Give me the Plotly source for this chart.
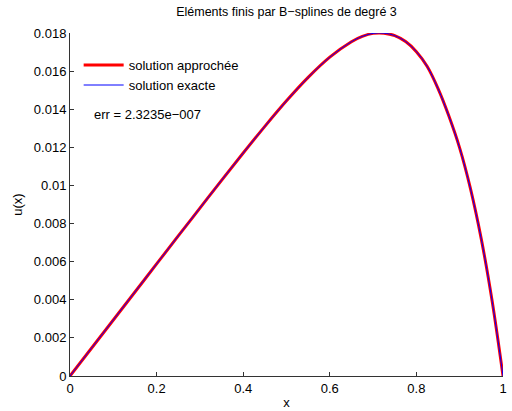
import plotly.graph_objects as go

x_vals = [0.0, 0.05, 0.1, 0.15, 0.2, 0.25, 0.3, 0.35, 0.4, 0.45, 0.5, 0.55, 0.6, 0.65,
          0.675, 0.7, 0.725, 0.75, 0.775, 0.8, 0.825, 0.85, 0.875, 0.9, 0.925, 0.95, 0.975, 1.0]
u_approx = [0.0, 0.00147, 0.00294, 0.00441, 0.00588, 0.00735, 0.00881, 0.01027, 0.01170,
            0.01310, 0.01444, 0.01567, 0.01673, 0.01754, 0.01782, 0.01798, 0.01799, 0.01786,
            0.01755, 0.01702, 0.01624, 0.01508, 0.01364, 0.01196, 0.00982, 0.00717, 0.00392, 0.0]
u_exact = list(u_approx)

x_ticks = [0, 0.2, 0.4, 0.6, 0.8, 1]
x_tick_text = ["0", "0.2", "0.4", "0.6", "0.8", "1"]
y_ticks = [0, 0.002, 0.004, 0.006, 0.008, 0.01, 0.012, 0.014, 0.016, 0.018]
y_tick_text = ["0", "0.002", "0.004", "0.006", "0.008", "0.01", "0.012", "0.014", "0.016", "0.018"]

title_text = "Eléments finis par B−splines de degré 3"
err_text = "err = 2.3235e−007"

font = "Liberation Sans, Arial, sans-serif"

fig = go.Figure()
fig.add_trace(go.Scatter(x=x_vals, y=u_approx, mode="lines", name="solution approchée",
                         line=dict(color="#ff0000", width=3, shape="spline")))
fig.add_trace(go.Scatter(x=x_vals, y=u_exact, mode="lines", name="solution exacte",
                         line=dict(color="#0000ff", width=1, shape="spline")))

fig.update_layout(
    width=512, height=411,
    margin=dict(l=70, r=9, t=33, b=35),
    paper_bgcolor="white", plot_bgcolor="white",
    font=dict(family=font, size=13, color="#000000"),
    title=dict(text=title_text, x=0.5, xanchor="center", xref="paper",
               y=1, yref="container", yanchor="top", pad=dict(t=7),
               font=dict(size=12.5, family=font, color="#000000")),
    showlegend=True,
    legend=dict(x=0.02, y=0.95, xanchor="left", yanchor="top",
                bgcolor="rgba(0,0,0,0)", borderwidth=0,
                font=dict(size=13, family=font), itemwidth=40,
                tracegroupgap=0),
    xaxis=dict(range=[0, 1], tickvals=x_ticks, ticktext=x_tick_text,
               showgrid=False, zeroline=False, showline=True, linecolor="#333333",
               linewidth=1, ticks="inside", ticklen=4, tickcolor="#333333",
               automargin=False, tickfont=dict(size=13),
               title=dict(text="x", standoff=3, font=dict(size=13)), mirror=False),
    yaxis=dict(range=[0, 0.018], tickvals=y_ticks, ticktext=y_tick_text,
               showgrid=False, zeroline=False, showline=True, linecolor="#333333",
               linewidth=1, ticks="inside", ticklen=4, tickcolor="#333333",
               automargin=False, tickfont=dict(size=13),
               title=dict(text="u(x)", standoff=8, font=dict(size=13)), mirror=False),
    annotations=[dict(text=err_text, x=0.05, y=0.0137, xref="x", yref="y",
                      xanchor="left", yanchor="middle", showarrow=False,
                      font=dict(size=13, family=font))],
)

fig.write_html("out.html")
